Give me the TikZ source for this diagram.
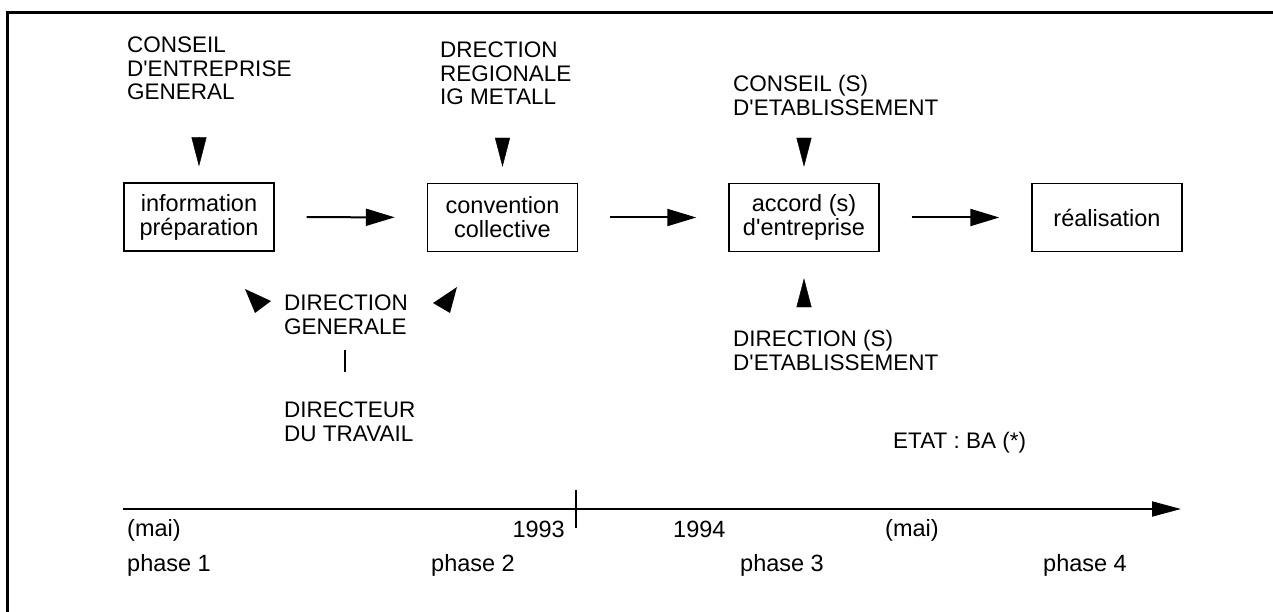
\documentclass[tikz,border=0pt]{standalone}
\usepackage{fontspec}
\setmainfont{Liberation Sans}
\usetikzlibrary{arrows.meta,calc}
\newcommand\apos{\textquotesingle}
\begin{document}
\begin{tikzpicture}[x=1pt,y=-1pt,
  txt/.style={font=\fontsize{22.5}{23.5}\selectfont, inner sep=0pt, align=left, anchor=north west},
  lab/.style={font=\fontsize{23.5}{24}\selectfont, inner sep=0pt, anchor=base west},
  stagebox/.style={draw, line width=1.4pt, minimum width=150pt, minimum height=68pt, inner sep=0pt, align=center, font=\fontsize{23.5}{24}\selectfont},
  flow/.style={line width=2pt, -{Triangle[length=29pt,width=17pt]}, shorten <=32pt, shorten >=32pt},
  headonly/.style={-{Triangle[length=29pt,width=15pt]}},
]
\useasboundingbox (0,0) rectangle (1273,612);
% partial frame
\draw[line width=3pt] (7.5,612) -- (7.5,12.5) -- (1273,12.5);

% boxes
\node[stagebox] (b1) at (199,217) {information\\préparation};
\node[stagebox] (b2) at (502.5,217.5) {convention\\collective};
\node[stagebox] (b3) at (804,217.5) {accord (s)\\d\apos entreprise};
\node[stagebox] (b4) at (1107,217.5) {réalisation};

\draw[flow] (b1) -- (b2);
\draw[flow] (b2) -- (b3);
\draw[flow] (b3) -- (b4);

% actors
\node[txt] (ce) at (127,37) {CONSEIL\\D\apos ENTREPRISE\\GENERAL};
\node[txt] (dr) at (440,42) {DRECTION\\REGIONALE\\IG METALL};
\node[txt] (cs) at (733,75) {CONSEIL (S)\\D\apos ETABLISSEMENT};
\node[txt] (dg) at (284,295) {DIRECTION\\GENERALE};
\node[txt] (dt) at (284,402) {DIRECTEUR\\DU TRAVAIL};
\node[txt] (ds) at (733,330) {DIRECTION (S)\\D\apos ETABLISSEMENT};
\node[txt] (etat) at (893,432) {ETAT : BA (*)};

% arrowheads
\draw[headonly] ($(b1.north)+(0,-45)$) -- ($(b1.north)+(0,-16)$);
\draw[headonly] ($(b2.north)+(0,-45)$) -- ($(b2.north)+(0,-16)$);
\draw[headonly] ($(b3.north)+(0,-45)$) -- ($(b3.north)+(0,-16)$);
\draw[headonly] ($(b3.south)+(0,54)$) -- ($(b3.south)+(0,26)$);
\fill (245,289) -- (271,301) -- (255,313) -- cycle;
\fill (433,303) -- (457,287) -- (450,313) -- cycle;

% link between direction generale and directeur du travail
\coordinate (vx) at (345,0);
\draw[line width=1.2pt, shorten <=15pt, shorten >=30pt] (dg.south -| vx) -- (dt.north -| vx);

% timeline
\coordinate (t0) at (123,509);
\coordinate (t1) at (1181,509);
\draw[line width=2pt, -{Triangle[length=29pt,width=15pt]}] (t0) -- (t1);
\coordinate (k0) at (576,490);
\coordinate (k1) at (576,528);
\draw[line width=1.6pt] (k0) -- (k1);

\node[lab] (m1) at (127,536) {(mai)};
\node[lab] (p1) at (127,571) {phase 1};
\node[lab,anchor=base east] (y93) at (565,537) {1993};
\node[lab] (p2) at (431,571) {phase 2};
\node[lab] (y94) at (673,537) {1994};
\node[lab] (p3) at (740,571) {phase 3};
\node[lab] (m2) at (885,536) {(mai)};
\node[lab] (p4) at (1043,571) {phase 4};
\end{tikzpicture}
\end{document}
